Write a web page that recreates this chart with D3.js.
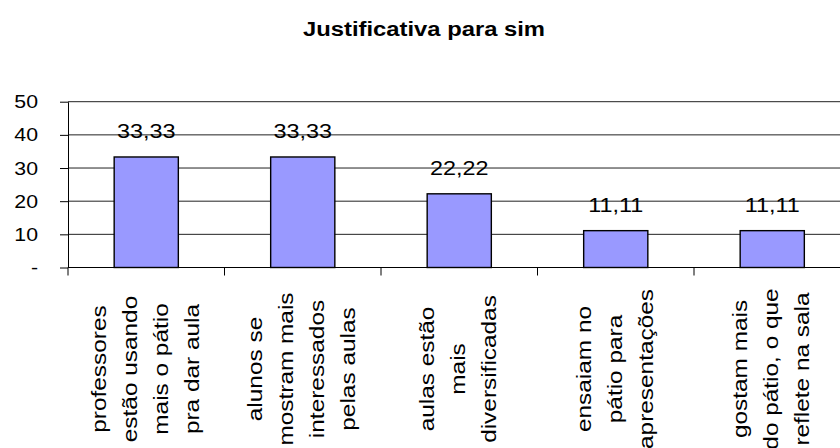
<!DOCTYPE html>
<html>
<head>
<meta charset="utf-8">
<script src="https://cdn.jsdelivr.net/npm/d3@7/dist/d3.min.js"></script>
<style>
  html, body { margin: 0; padding: 0; background: #fff; }
  svg { display: block; font-family: "Liberation Sans", Arial, sans-serif; }
</style>
</head>
<body>
<svg id="chart" width="840" height="448"></svg>
<script>
// Chart data
const title = "Justificativa para sim";
const categories = [
  ["professores", "estão usando", "mais o pátio", "pra dar aula"],
  ["alunos se", "mostram mais", "interessados", "pelas aulas"],
  ["aulas estão", "mais", "diversificadas"],
  ["ensaiam no", "pátio para", "apresentações"],
  ["gostam mais", "do pátio, o que", "reflete na sala"]
];
const values = [33.33, 33.33, 22.22, 11.11, 11.11];
const yTicks = [0, 10, 20, 30, 40, 50];
const yTickLabels = ["-", "10", "20", "30", "40", "50"];

const svg = d3.select("#chart");
const W = 840, H = 448;
const plot = { left: 68, right: 850.5, top: 101.7, bottom: 267.5 };

const x = d3.scaleBand()
  .domain(d3.range(values.length))
  .range([plot.left, plot.right])
  .paddingInner(0.59)
  .paddingOuter(0.295);
const step = x.step();

const y = d3.scaleLinear().domain([0, 50]).range([plot.bottom, plot.top]);

const fmt = v => d3.format(".2f")(v).replace(".", ",");

// Title
svg.append("text")
  .attr("transform", `translate(424,36) scale(1.19,1)`)
  .attr("text-anchor", "middle")
  .attr("font-weight", "bold")
  .attr("font-size", 20)
  .attr("fill", "#000")
  .text(title);

// Horizontal gridlines
svg.append("g")
  .selectAll("line")
  .data(yTicks.filter(d => d > 0))
  .join("line")
  .attr("x1", plot.left).attr("x2", plot.right)
  .attr("y1", d => y(d)).attr("y2", d => y(d))
  .attr("stroke", "#222")
  .attr("stroke-width", 1);

// Bars
svg.append("g")
  .selectAll("rect")
  .data(values)
  .join("rect")
  .attr("x", (d, i) => x(i))
  .attr("y", d => y(d))
  .attr("width", x.bandwidth())
  .attr("height", d => y(0) - y(d))
  .attr("fill", "#9999ff")
  .attr("stroke", "#000")
  .attr("stroke-width", 1.4);

// Value labels
svg.append("g")
  .selectAll("text")
  .data(values)
  .join("text")
  .attr("transform", (d, i) => `translate(${x(i) + x.bandwidth() / 2},${y(d) - 19}) scale(1.17,1)`)
  .attr("text-anchor", "middle")
  .attr("font-size", 20)
  .attr("fill", "#000")
  .text(d => fmt(d));

// Y axis
const yAxis = svg.append("g")
  .attr("transform", `translate(${plot.left},0)`)
  .call(d3.axisLeft(y)
    .tickValues(yTicks)
    .tickFormat((d, i) => yTickLabels[i])
    .tickSize(8)
    .tickSizeOuter(0)
    .tickPadding(22));
yAxis.select(".domain").attr("stroke", "#000").attr("stroke-width", 1);
yAxis.selectAll(".tick line").attr("stroke", "#000");
yAxis.selectAll(".tick text")
  .attr("font-size", 19)
  .attr("font-family", "'Liberation Sans', Arial, sans-serif")
  .attr("fill", "#000")
  .each(function () {
    const t = d3.select(this);
    const tx = +t.attr("x");
    t.attr("x", 0).attr("transform", `translate(${tx},0) scale(1.12,1)`);
  });

// X axis baseline and category boundary ticks
svg.append("line")
  .attr("x1", plot.left).attr("x2", plot.right)
  .attr("y1", y(0)).attr("y2", y(0))
  .attr("stroke", "#000");
svg.append("g")
  .selectAll("line")
  .data(d3.range(values.length + 1))
  .join("line")
  .attr("x1", i => plot.left + i * step)
  .attr("x2", i => plot.left + i * step)
  .attr("y1", y(0))
  .attr("y2", y(0) + 8)
  .attr("stroke", "#000");

// Rotated, multi-line category labels
const lineGap = 31;
const labelCenterY = 369;
const catG = svg.append("g");
categories.forEach((lines, i) => {
  const cx = x(i) + x.bandwidth() / 2;
  lines.forEach((line, j) => {
    const lx = cx + (j - (lines.length - 1) / 2) * lineGap + 6;
    catG.append("text")
      .attr("transform", `translate(${lx},${labelCenterY}) rotate(-90) scale(1.22,1)`)
      .attr("text-anchor", "middle")
      .attr("font-size", 20)
      .attr("fill", "#000")
      .text(line);
  });
});
</script>
</body>
</html>
